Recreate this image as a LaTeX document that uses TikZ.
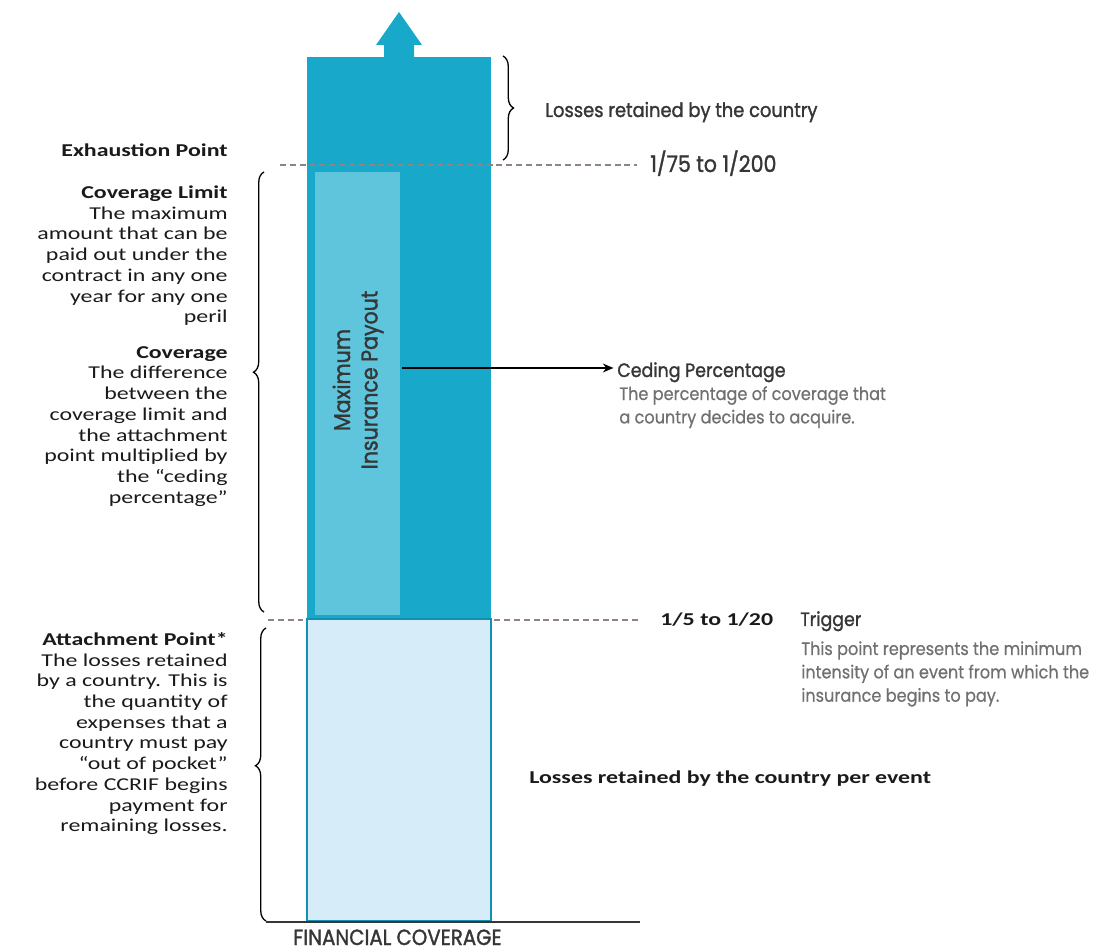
\documentclass[tikz,border=0pt]{standalone}
\usepackage{fontspec}
\newfontfamily\calfont[FakeStretch=1.32]{Carlito}
\newfontfamily\futfont[FakeStretch=0.9, FakeBold=0.6]{Poppins}
\newfontfamily\futmed[FakeStretch=0.9, FakeBold=1.4]{Poppins}
\usetikzlibrary{
    arrows.meta,
    decorations.pathreplacing,
    calc,
    positioning
}
\definecolor{barteal}{HTML}{18A8CA}
\definecolor{payteal}{HTML}{5EC5DD}
\definecolor{retainblue}{HTML}{D6EDF9}
\definecolor{retainedge}{HTML}{1391B2}
\definecolor{dashgrey}{HTML}{8F8480}
\definecolor{textdark}{HTML}{1A1A1A}
\definecolor{futdark}{HTML}{363636}
\definecolor{futgrey}{HTML}{707070}
\tikzset{
    note/.style={anchor=north east, align=right, inner sep=0pt, text=textdark,
        font=\calfont\fontsize{10.3}{11.8}\selectfont},
    notehead/.style={anchor=base west, inner sep=0pt, text=textdark,
        font=\calfont\bfseries\fontsize{10.3}{11.8}\selectfont},
    futhead/.style={anchor=base west, inner sep=0pt, text=futdark,
        font=\futmed\fontsize{11}{13}\selectfont},
    futbody/.style={anchor=north west, align=left, inner sep=0pt, text=futgrey,
        font=\futfont\fontsize{10.2}{13.3}\selectfont},
    level/.style={dashgrey, line width=1.3pt, dash pattern=on 3.4pt off 2.2pt},
    curly/.style={decorate, decoration={brace, amplitude=6pt, aspect=#1},
        line width=0.75pt}
}

\begin{document}
\begin{tikzpicture}[x=0.02cm, y=-0.02cm]
                    \useasboundingbox (0,0) rectangle (1096,952);

                    % the bar with its arrow
                    \fill[barteal] (307,57) rectangle (491,618);
                    \fill[barteal] (384,58) -- (384,45) -- (376,45) -- (399,12)
                        -- (422,45) -- (414,45) -- (414,58) -- cycle;
                    \fill[payteal] (315,172) rectangle (400,615);
                    \node[rotate=90, align=center, inner sep=0pt, text=futdark,
                        font=\futmed\fontsize{13}{15.6}\selectfont]
                        (payout) at (358,380) {Maximum\\Insurance Payout};

                    % levels
                    \coordinate (exhL) at (280,165);
                    \coordinate (exhR) at (637,165);
                    \coordinate (attL) at (268,620);
                    \coordinate (attR) at (640,620);
                    \draw[level] (exhL) -- (exhR);
                    \draw[level] (attL) -- (attR);
                    \draw[retainedge, fill=retainblue, line width=1.4pt]
                        (307,619) rectangle (491,921);
                    \coordinate (axisL) at (266,922);
                    \coordinate (axisR) at (640,922);
                    \draw[futdark, line width=1.1pt] (axisL) -- (axisR);

                    % braces
                    \draw[curly=0.5] (503,56) -- (503,160);
                    \draw[curly=0.545] (264,612) -- (264,172);
                    \draw[curly=0.53] (266,921) -- (266,628);

                    % left notes
                    \node[note, anchor=base east, font=\calfont\bfseries\fontsize{10.3}{11.8}\selectfont]
                        (exhaust) at (228,157) {Exhaustion Point};
                    \node[note] (limit) at (228,185.4) {\textbf{Coverage Limit}\\The maximum\\amount that can be\\paid out under the\\contract in any one\\year for any one\\peril};
                    \node[note] (coverage) at (228,346) {\textbf{Coverage}\\The difference\\between the\\coverage limit and\\the attachment\\point multiplied by\\the “ceding\\percentage”};
                    \node[note] (attach) at (228,632) {\textbf{Attachment Point*}\\The losses retained\\by a country. This is\\the quantity of\\expenses that a\\country must pay\\“out of pocket”\\before CCRIF begins\\payment for\\remaining losses.};

                    % right notes
                    \node[futhead, font=\futmed\fontsize{11.3}{13}\selectfont]
                        (retained) at (545,117) {Losses retained by the country};
                    \node[futhead, font=\futmed\fontsize{13}{15}\selectfont]
                        (exhval) at (650,172) {1/75 to 1/200};
                    \node[futhead] (ceding) at (617,377) {Ceding Percentage};
                    \node[futbody] (cedingtxt) at (619,386) {The percentage of coverage that\\a country decides to acquire.};
                    \coordinate (cedsrc) at (402,368);
                    \draw[-{Stealth[length=6pt, width=5pt]}, line width=1.1pt, shorten >=2pt]
                        (cedsrc) -- (ceding.west |- cedsrc);
                    \node[notehead] (attval) at (660,626) {1/5 to 1/20};
                    \node[futhead] (trigger) at (800,626) {Trigger};
                    \node[futbody] (triggertxt) at (801,641) {This point represents the minimum\\intensity of an event from which the\\insurance begins to pay.};
                    \node[notehead] (perevent) at (529,784) {Losses retained by the country per event};
                    \node[futhead, font=\futmed\fontsize{12.5}{14}\selectfont]
                        (fincov) at (293,945) {FINANCIAL COVERAGE};
                \end{tikzpicture}
\end{document}
